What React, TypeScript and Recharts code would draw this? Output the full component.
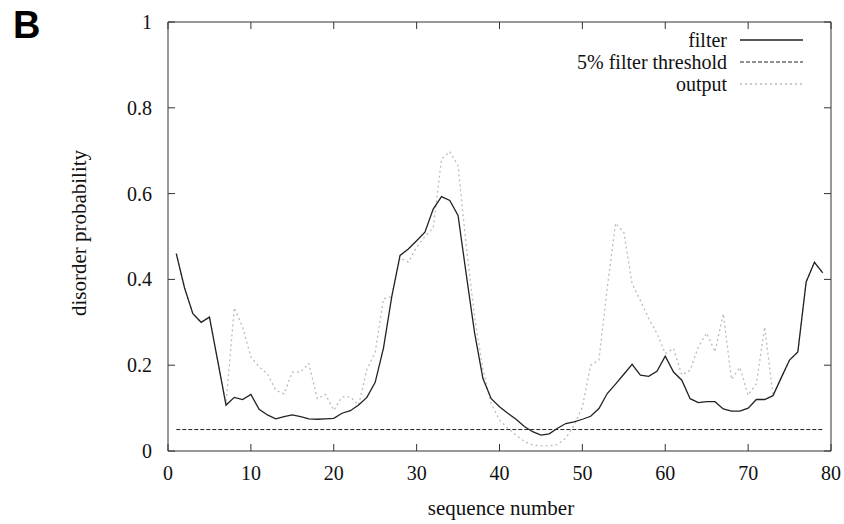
import React from "react";
import { LineChart, Line, XAxis, YAxis, ReferenceLine, ReferenceArea } from "recharts";

// sequence positions along the x axis
const sequence = [
  1, 2, 3, 4, 5, 6, 7, 8, 9, 10, 11, 12, 13, 14, 15, 16, 17, 18, 19, 20,
  21, 22, 23, 24, 25, 26, 27, 28, 29, 30, 31, 32, 33, 34, 35, 36, 37, 38, 39, 40,
  41, 42, 43, 44, 45, 46, 47, 48, 49, 50, 51, 52, 53, 54, 55, 56, 57, 58, 59, 60,
  61, 62, 63, 64, 65, 66, 67, 68, 69, 70, 71, 72, 73, 74, 75, 76, 77, 78, 79,
];

const filterValues = [
  0.46, 0.38, 0.32, 0.3, 0.312, 0.21, 0.107, 0.125, 0.12, 0.132,
  0.097, 0.084, 0.075, 0.08, 0.084, 0.08, 0.075, 0.074, 0.075, 0.076,
  0.088, 0.094, 0.107, 0.125, 0.16, 0.24, 0.36, 0.456, 0.471, 0.49,
  0.51, 0.564, 0.593, 0.584, 0.549, 0.41, 0.275, 0.169, 0.122, 0.103,
  0.088, 0.074, 0.057, 0.045, 0.037, 0.04, 0.053, 0.064, 0.068, 0.074,
  0.081, 0.099, 0.134, 0.156, 0.179, 0.202, 0.177, 0.174, 0.186, 0.221,
  0.184, 0.165, 0.122, 0.113, 0.115, 0.115, 0.098, 0.093, 0.093, 0.1,
  0.12, 0.12, 0.129, 0.171, 0.212, 0.231, 0.394, 0.44, 0.415,
];

const outputValues = [
  0.46, 0.38, 0.32, 0.3, 0.312, 0.21, 0.11, 0.334, 0.289, 0.219,
  0.196, 0.18, 0.142, 0.133, 0.184, 0.184, 0.204, 0.122, 0.132, 0.095,
  0.126, 0.126, 0.107, 0.19, 0.23, 0.355, 0.36, 0.45, 0.44, 0.475,
  0.5, 0.52, 0.68, 0.698, 0.665, 0.475, 0.312, 0.19, 0.11, 0.072,
  0.053, 0.037, 0.022, 0.014, 0.012, 0.012, 0.015, 0.03, 0.06, 0.103,
  0.2, 0.212, 0.38, 0.531, 0.51, 0.39, 0.351, 0.309, 0.274, 0.227,
  0.239, 0.177, 0.188, 0.243, 0.275, 0.231, 0.32, 0.167, 0.195, 0.13,
  0.157, 0.289, 0.13, 0.171, 0.212, 0.231, 0.394, 0.44, 0.415,
];

const threshold = 0.05;
const thresholdRange = [1, 79];

const xTicks = [0, 10, 20, 30, 40, 50, 60, 70, 80];
const yTicks = [0, 0.2, 0.4, 0.6, 0.8, 1];

const legendItems = [
  { label: "filter", stroke: "#222", dash: undefined, width: 1.3 },
  { label: "5% filter threshold", stroke: "#222", dash: "4 2", width: 1 },
  { label: "output", stroke: "#bbb", dash: "2 3", width: 1.3 },
];

const data = sequence.map((s, i) => ({ seq: s, filter: filterValues[i], output: outputValues[i] }));

// plot box edges, used for the mirrored tick marks
const TOP = 22;
const BOTTOM = 451;
const LEFT = 168;
const RIGHT = 831;
const TICK = 7;
const serif = {
  fontFamily: 'Times, "Times New Roman", "Liberation Serif", Tinos, "DejaVu Serif", "Noto Serif", FreeSerif, serif',
};

function XTick(props: any) {
  const { x, payload } = props;
  return (
    <g>
      <line x1={x} x2={x} y1={BOTTOM} y2={BOTTOM - TICK} stroke="#333" />
      <line x1={x} x2={x} y1={TOP} y2={TOP + TICK} stroke="#333" />
      <text x={x} y={480} textAnchor="middle" fontSize={20} style={serif} fill="#111">
        {payload.value}
      </text>
    </g>
  );
}

function YTick(props: any) {
  const { y, payload } = props;
  return (
    <g>
      <line x1={LEFT} x2={LEFT + TICK} y1={y} y2={y} stroke="#333" />
      <line x1={RIGHT} x2={RIGHT - TICK} y1={y} y2={y} stroke="#333" />
      <text x={152} y={y + 7} textAnchor="end" fontSize={20} style={serif} fill="#111">
        {String(payload.value)}
      </text>
    </g>
  );
}

export default function App() {
  return (
    <div style={{ position: "absolute", left: 0, top: 0, width: 844, height: 524, background: "#fff" }}>
      <LineChart width={844} height={524} data={data} margin={{ top: 22, right: 13, bottom: 43, left: 108 }}>
        <XAxis
          dataKey="seq"
          type="number"
          domain={[0, 80]}
          ticks={xTicks}
          height={30}
          axisLine={false}
          tickLine={false}
          tick={<XTick />}
        />
        <YAxis
          type="number"
          domain={[0, 1]}
          ticks={yTicks}
          width={60}
          axisLine={false}
          tickLine={false}
          tick={<YTick />}
        />
        <ReferenceArea x1={0} x2={80} y1={0} y2={1} fill="none" fillOpacity={0} stroke="#333" strokeWidth={1} />
        <Line
          dataKey="output"
          type="linear"
          stroke="#bbb"
          strokeWidth={1.3}
          strokeDasharray="2 3"
          dot={false}
          isAnimationActive={false}
        />
        <ReferenceLine
          segment={[
            { x: thresholdRange[0], y: threshold },
            { x: thresholdRange[1], y: threshold },
          ]}
          stroke="#222"
          strokeDasharray="4 2"
        />
        <Line dataKey="filter" type="linear" stroke="#222" strokeWidth={1.3} dot={false} isAnimationActive={false} />
      </LineChart>
      <div
        style={{
          position: "absolute",
          left: 13,
          top: 3,
          fontFamily: '"Liberation Sans", Arial, sans-serif',
          fontWeight: "bold",
          fontSize: 38,
          lineHeight: "44px",
        }}
      >
        B
      </div>
      <svg width={844} height={524} style={{ position: "absolute", left: 0, top: 0, pointerEvents: "none" }}>
        {legendItems.map((it, i) => {
          const cy = 40 + i * 22;
          return (
            <g key={it.label}>
              <text x={727} y={cy + 7} textAnchor="end" fontSize={20} style={serif} fill="#111">
                {it.label}
              </text>
              <line x1={740} x2={803} y1={cy} y2={cy} stroke={it.stroke} strokeWidth={it.width} strokeDasharray={it.dash} />
            </g>
          );
        })}
        <text x={501} y={515} textAnchor="middle" fontSize={21} style={serif} fill="#111">
          sequence number
        </text>
        <text x={86} y={233} textAnchor="middle" fontSize={21} style={serif} fill="#111" transform="rotate(-90 86 233)">
          disorder probability
        </text>
      </svg>
    </div>
  );
}
